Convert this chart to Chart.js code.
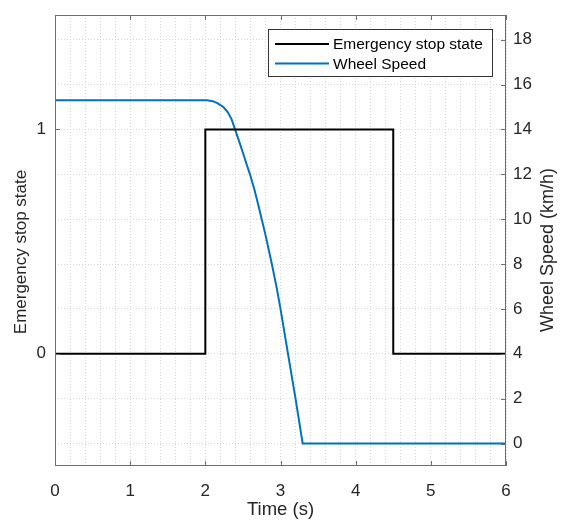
<!DOCTYPE html>
<html>
<head>
<meta charset="utf-8">
<script src="https://cdn.jsdelivr.net/npm/chart.js@4.4.0/dist/chart.umd.min.js"></script>
<style>
  html, body { margin: 0; padding: 0; background: #fff; }
  #wrap { width: 561px; height: 520px; }
</style>
</head>
<body>
<div id="wrap"><canvas id="chart"></canvas></div>
<script>
// emergency stop signal (step)
const stopTime  = [0, 2, 2, 4.5, 4.5, 6];
const stopState = [0, 0, 1, 1, 0, 0];

// wheel speed (km/h)
const speedTime = [0, 2.02, 2.1, 2.16, 2.24, 2.3, 2.35, 2.395, 2.45, 2.5, 2.55, 2.594, 2.65, 2.7, 2.75, 2.8, 2.885, 2.95, 3.0, 3.1, 3.2, 3.295, 6];
const speedKmh  = [15.3, 15.3, 15.26, 15.17, 15.0, 14.76, 14.45, 14.0, 13.47, 12.96, 12.44, 12.0, 11.36, 10.7, 10.0, 9.3, 8.0, 6.93, 6.0, 4.0, 2.0, 0, 0];

const xTicks = [0, 1, 2, 3, 4, 5, 6];
const stateTicks = [0, 1];
const speedTicks = [0, 2, 4, 6, 8, 10, 12, 14, 16, 18];
const xMinorStep = 0.2;

const FONT = "'Liberation Sans', Arial, Helvetica, sans-serif";
const AXIS_COLOR = '#6e6e6e';
const TEXT_COLOR = '#262626';

function toPoints(xs, ys) {
    return xs.map((x, i) => ({ x: x, y: ys[i] }));
}

const xGrid = [];
for (let v = xTicks[0]; v <= xTicks[xTicks.length - 1] + 1e-9; v += xMinorStep) {
    xGrid.push(Math.round(v * 1000) / 1000);
}

// vertical axes: fixed width, no extra padding from label heights
function fitY(s) {
    s.width = 55;
    s.paddingTop = 0;
    s.paddingBottom = 0;
}

// box, inward ticks, axis titles and legend, MATLAB style
const matlabFrame = {
    id: 'matlabFrame',
    afterDraw(chart) {
        const ctx = chart.ctx;
        const a = chart.chartArea;
        const sx = chart.scales.x, sl = chart.scales.yState, sr = chart.scales.ySpeed;
        const tl = 5;
        ctx.save();
        ctx.strokeStyle = AXIS_COLOR;
        ctx.lineWidth = 1;
        ctx.strokeRect(a.left + 0.5, a.top + 0.5, a.right - a.left - 1, a.bottom - a.top - 1);
        ctx.beginPath();
        xTicks.forEach(v => {
            const px = Math.round(sx.getPixelForValue(v)) + 0.5;
            ctx.moveTo(px, a.bottom); ctx.lineTo(px, a.bottom - tl);
            ctx.moveTo(px, a.top); ctx.lineTo(px, a.top + tl);
        });
        stateTicks.forEach(v => {
            const py = Math.round(sl.getPixelForValue(v)) + 0.5;
            ctx.moveTo(a.left, py); ctx.lineTo(a.left + tl, py);
        });
        speedTicks.forEach(v => {
            const py = Math.round(sr.getPixelForValue(v)) + 0.5;
            ctx.moveTo(a.right, py); ctx.lineTo(a.right - tl, py);
        });
        ctx.stroke();

        // axis titles
        ctx.fillStyle = TEXT_COLOR;
        ctx.textAlign = 'center';
        ctx.textBaseline = 'middle';
        ctx.font = '18.5px ' + FONT;
        ctx.fillText('Time (s)', (a.left + a.right) / 2, 510);
        ctx.font = '17px ' + FONT;
        ctx.save();
        ctx.translate(21, 252);
        ctx.rotate(-Math.PI / 2);
        ctx.fillText('Emergency stop state', 0, 0);
        ctx.restore();
        ctx.font = '18px ' + FONT;
        ctx.save();
        ctx.translate(548, 250);
        ctx.rotate(-Math.PI / 2);
        ctx.fillText('Wheel Speed (km/h)', 0, 0);
        ctx.restore();

        // legend
        const bx = 268, by = 29, bw = 224, bh = 47;
        ctx.fillStyle = '#fff';
        ctx.fillRect(bx, by, bw, bh);
        ctx.strokeStyle = '#333';
        ctx.strokeRect(bx + 0.5, by + 0.5, bw, bh);
        ctx.font = '15.5px ' + FONT;
        ctx.textAlign = 'left';
        chart.data.datasets.forEach((ds, i) => {
            const y = 44 + i * 19.5;
            ctx.strokeStyle = ds.borderColor;
            ctx.lineWidth = ds.borderWidth;
            ctx.beginPath();
            ctx.moveTo(275, y); ctx.lineTo(329, y);
            ctx.stroke();
            ctx.fillStyle = '#000';
            ctx.fillText(ds.label, 333, y + 1);
        });
        ctx.restore();
    }
};

new Chart(document.getElementById('chart'), {
    type: 'scatter',
    data: {
        datasets: [
            {
                label: 'Emergency stop state',
                data: toPoints(stopTime, stopState),
                yAxisID: 'yState',
                showLine: true,
                borderColor: '#000000',
                borderWidth: 2,
                pointRadius: 0,
                tension: 0
            },
            {
                label: 'Wheel Speed',
                data: toPoints(speedTime, speedKmh),
                yAxisID: 'ySpeed',
                showLine: true,
                borderColor: '#0072BD',
                borderWidth: 2,
                pointRadius: 0,
                tension: 0
            }
        ]
    },
    options: {
        responsive: true,
        maintainAspectRatio: false,
        animation: false,
        layout: { padding: { top: 15, left: 0, right: 0, bottom: 0 } },
        plugins: {
            legend: { display: false },
            tooltip: { enabled: false }
        },
        scales: {
            x: {
                type: 'linear',
                min: 0,
                max: 6,
                afterBuildTicks: axis => { axis.ticks = xGrid.map(v => ({ value: v })); },
                afterFit: s => { s.height = 54; s.paddingLeft = 0; s.paddingRight = 0; },
                ticks: {
                    autoSkip: false,
                    maxRotation: 0,
                    padding: 15,
                    color: TEXT_COLOR,
                    font: { size: 17, family: FONT },
                    callback: v => {
                        const r = Math.round(v);
                        return Math.abs(v - r) < 1e-6 ? String(r) : '';
                    }
                },
                grid: { color: '#d6d6d6', lineWidth: 1, drawTicks: false },
                border: { display: false, dash: [1, 2] }
            },
            yState: {
                type: 'linear',
                position: 'left',
                min: -0.5,
                max: 1.51,
                afterBuildTicks: axis => { axis.ticks = stateTicks.map(v => ({ value: v })); },
                afterFit: fitY,
                ticks: {
                    padding: 9,
                    color: TEXT_COLOR,
                    font: { size: 17, family: FONT }
                },
                grid: { display: false, drawTicks: false },
                border: { display: false }
            },
            ySpeed: {
                type: 'linear',
                position: 'right',
                min: -1,
                max: 19.1,
                afterBuildTicks: axis => { axis.ticks = speedTicks.map(v => ({ value: v })); },
                afterFit: fitY,
                ticks: {
                    padding: 7,
                    color: TEXT_COLOR,
                    font: { size: 17, family: FONT }
                },
                grid: { color: '#d6d6d6', lineWidth: 1, drawTicks: false },
                border: { display: false, dash: [1, 2] }
            }
        }
    },
    plugins: [matlabFrame]
});
</script>
</body>
</html>
